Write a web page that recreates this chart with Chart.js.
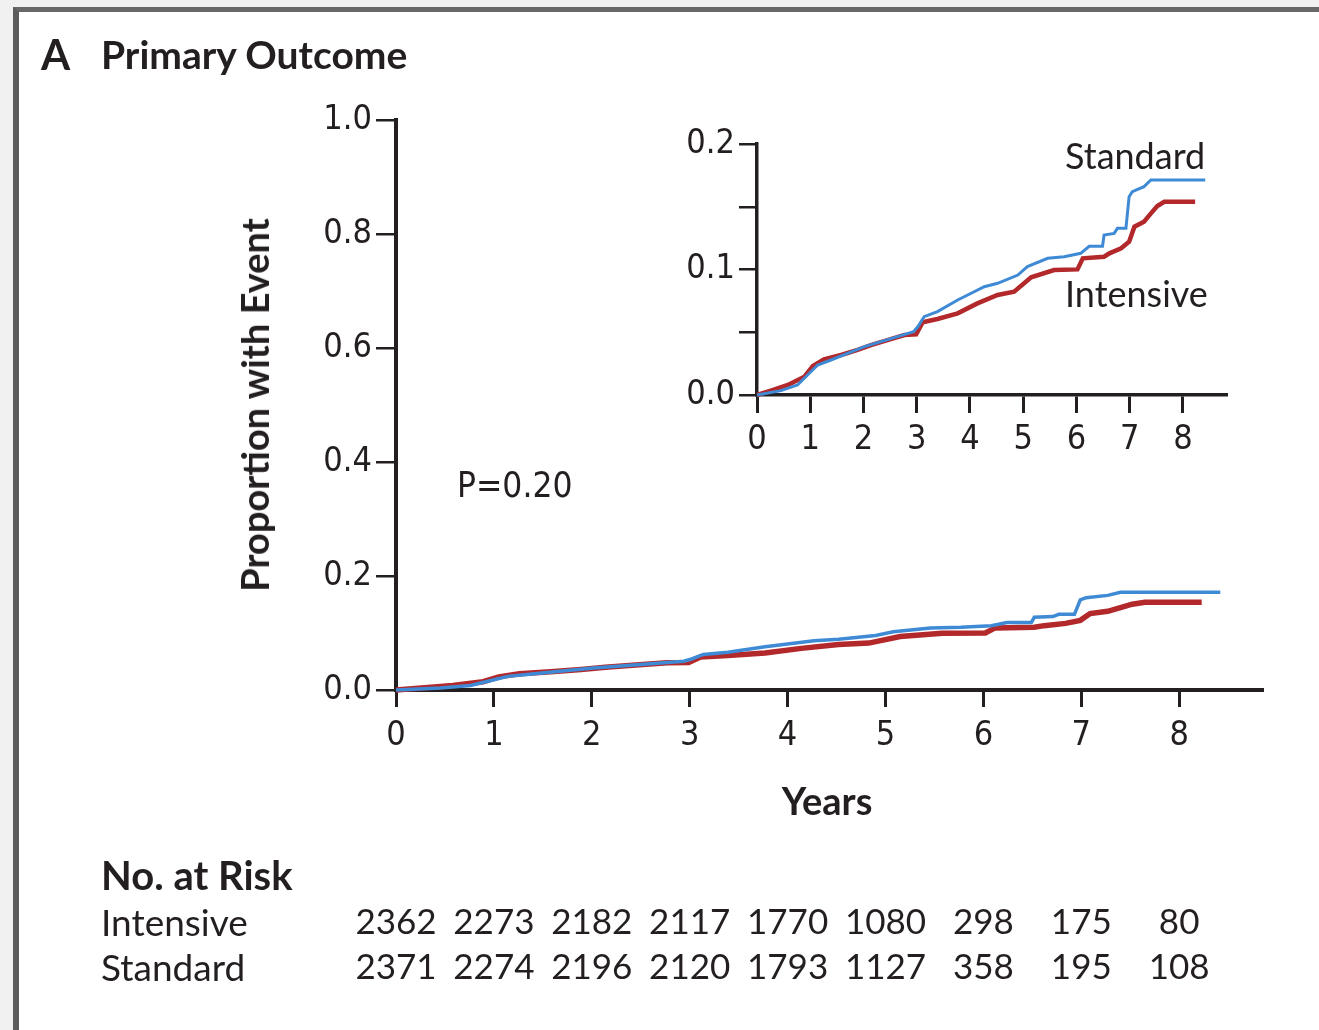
<!DOCTYPE html>
<html>
<head>
<meta charset="utf-8">
<script src="https://cdn.jsdelivr.net/npm/chart.js@4.4.1/dist/chart.umd.min.js"></script>
<style>
  html, body { margin: 0; padding: 0; background: #f1f1f1; }
  #page { position: relative; width: 1319px; height: 1030px; overflow: hidden; }
  #frame { position: absolute; left: 13px; top: 7px; width: 1330px; height: 1018px; background: #fff;
           border-left: 6px solid #5c5c5c; border-top: 5px solid #686868; border-bottom: 2px solid #d8d8d8; }
  canvas { position: absolute; }
  #main { left: 0; top: 0; }
  #inset { left: 640px; top: 110px; }
  .t { position: absolute; white-space: nowrap; line-height: 1; color: #231f20; font-family: Lato, sans-serif; }
  .b { font-weight: 700; }
  .tick { font-family: 'DejaVu Sans Condensed', 'DejaVu Sans', sans-serif; }
</style>
</head>
<body>
<div id="page">
  <div id="frame"></div>
  <canvas id="main" width="1319" height="1030"></canvas>
  <canvas id="inset" width="620" height="360"></canvas>

  <div class="t b" style="left:41px;top:33px;font-size:42px;">A</div>
  <div class="t b" style="left:101px;top:35px;font-size:39px;">Primary Outcome</div>
  <div class="t b" style="left:827px;top:781px;font-size:38px;transform:translateX(-50%);">Years</div>
  <div class="t b" style="left:254px;top:405px;font-size:38px;transform:translate(-50%,-50%) rotate(-90deg);">Proportion with Event</div>
  <div class="t tick" style="left:457px;top:468px;font-size:35px;">P=0.20</div>
  <div class="t" style="left:1065px;top:137px;font-size:36px;">Standard</div>
  <div class="t" style="left:1065px;top:275px;font-size:36px;">Intensive</div>

  <div class="t b" style="left:101px;top:855px;font-size:40px;">No. at Risk</div>
  <div class="t" style="left:101px;top:903px;font-size:37px;">Intensive</div>
  <div class="t" style="left:101px;top:948px;font-size:37px;">Standard</div>
</div>

<script>
// (years, cumulative proportion with event)
const standardYears  = [0, 0.45, 0.76, 0.95, 1.14, 1.39, 1.70, 2.02, 2.33, 2.64, 2.94, 3.02, 3.14, 3.39, 3.77, 4.27, 4.52, 4.90, 5.08, 5.46, 5.77, 6.08, 6.24, 6.49, 6.52, 6.71, 6.77, 6.93, 6.99, 7.05, 7.27, 7.40, 8.42];
const standardValues = [0, 0.0035, 0.0080, 0.0159, 0.0239, 0.0279, 0.0332, 0.0385, 0.0425, 0.0465, 0.0505, 0.0544, 0.0624, 0.0664, 0.0757, 0.0863, 0.0890, 0.0956, 0.1023, 0.1089, 0.1102, 0.1129, 0.1185, 0.1185, 0.1275, 0.1288, 0.1328, 0.1328, 0.1580, 0.1620, 0.1660, 0.1713, 0.1713];

const intensiveYears  = [0, 0.26, 0.58, 0.89, 1.05, 1.26, 1.58, 1.89, 2.14, 2.45, 2.77, 2.99, 3.11, 3.39, 3.77, 4.14, 4.52, 4.83, 5.15, 5.58, 6.02, 6.12, 6.52, 6.62, 6.84, 6.99, 7.09, 7.27, 7.40, 7.52, 7.65, 8.23];
const intensiveValues = [0, 0.0035, 0.0080, 0.0146, 0.0231, 0.0284, 0.0319, 0.0359, 0.0398, 0.0438, 0.0478, 0.0483, 0.0579, 0.0606, 0.0651, 0.0730, 0.0797, 0.0823, 0.0938, 0.0996, 0.1001, 0.1089, 0.1102, 0.1129, 0.1169, 0.1222, 0.1341, 0.1381, 0.1447, 0.1506, 0.1540, 0.1540];

const riskYears     = [0, 1, 2, 3, 4, 5, 6, 7, 8];
const riskIntensive = [2362, 2273, 2182, 2117, 1770, 1080, 298, 175, 80];
const riskStandard  = [2371, 2274, 2196, 2120, 1793, 1127, 358, 195, 108];

const BLUE = '#3f8ad5';
const RED = '#b2282b';
const INK = '#231f20';
const TICK_FONT = { family: "'DejaVu Sans Condensed', 'DejaVu Sans', sans-serif", size: 34 };

const pts = (xs, ys) => xs.map((x, i) => ({ x: x, y: ys[i] }));

const series = (blueW, redW) => [
  { label: 'Standard', data: pts(standardYears, standardValues), borderColor: BLUE, borderWidth: blueW,
    pointRadius: 0, tension: 0, clip: 10 },
  { label: 'Intensive', data: pts(intensiveYears, intensiveValues), borderColor: RED, borderWidth: redW,
    pointRadius: 0, tension: 0, clip: 10 },
];

// number-at-risk rows sit under the year ticks
const riskTable = {
  id: 'riskTable',
  afterRender(chart) {
    if (chart.$riskDone) return;
    chart.$riskDone = true;
    const page = document.getElementById('page');
    const x = chart.scales.x;
    [[riskIntensive, 903], [riskStandard, 948]].forEach(([row, top]) => {
      row.forEach((n, i) => {
        const el = document.createElement('div');
        el.className = 't';
        el.style.fontSize = '35px';
        el.style.top = top + 'px';
        el.style.left = x.getPixelForValue(riskYears[i]) + 'px';
        el.style.transform = 'translateX(-50%)';
        el.textContent = n;
        page.appendChild(el);
      });
    });
  }
};

new Chart(document.getElementById('main'), {
  type: 'line',
  data: { datasets: series(3.5, 5.5) },
  options: {
    responsive: false,
    animation: false,
    layout: { padding: { left: 276, top: 120, right: 57, bottom: 260 } },
    plugins: { legend: { display: false }, tooltip: { enabled: false } },
    scales: {
      x: {
        type: 'linear', min: 0, max: 8.846,
        afterFit: s => { s.height = 80; },
        ticks: { stepSize: 1, includeBounds: false, autoSkip: false, padding: 9, color: INK, font: TICK_FONT },
        grid: { drawOnChartArea: false, tickLength: 17, lineWidth: 3, color: INK },
        border: { width: 4, color: INK }
      },
      y: {
        min: 0, max: 1,
        afterFit: s => { s.width = 120; },
        ticks: { stepSize: 0.2, autoSkip: false, padding: 4, color: INK, font: TICK_FONT,
                 callback: v => v.toFixed(1) },
        grid: { drawOnChartArea: false, tickLength: 20, lineWidth: 2.5, color: INK },
        border: { width: 4, color: INK }
      }
    }
  },
  plugins: [riskTable]
});

new Chart(document.getElementById('inset'), {
  type: 'line',
  data: { datasets: series(3, 4.5) },
  options: {
    responsive: false,
    animation: false,
    layout: { padding: { left: 17, top: 34, right: 34, bottom: 5 } },
    plugins: { legend: { display: false }, tooltip: { enabled: false } },
    scales: {
      x: {
        type: 'linear', min: 0, max: 8.81,
        afterFit: s => { s.height = 70; },
        ticks: { stepSize: 1, includeBounds: false, autoSkip: false, padding: 7, color: INK, font: TICK_FONT },
        grid: { drawOnChartArea: false, tickLength: 18, lineWidth: 3, color: INK },
        border: { width: 3.5, color: INK }
      },
      y: {
        min: 0, max: 0.2,
        afterFit: s => { s.width = 100; },
        ticks: { stepSize: 0.05, autoSkip: false, padding: 4, color: INK, font: TICK_FONT,
                 callback: v => Math.abs(v * 10 - Math.round(v * 10)) < 1e-6 ? v.toFixed(1) : '' },
        grid: { drawOnChartArea: false, tickLength: 18, lineWidth: 2.5, color: INK },
        border: { width: 3.5, color: INK }
      }
    }
  }
});
</script>
</body>
</html>
